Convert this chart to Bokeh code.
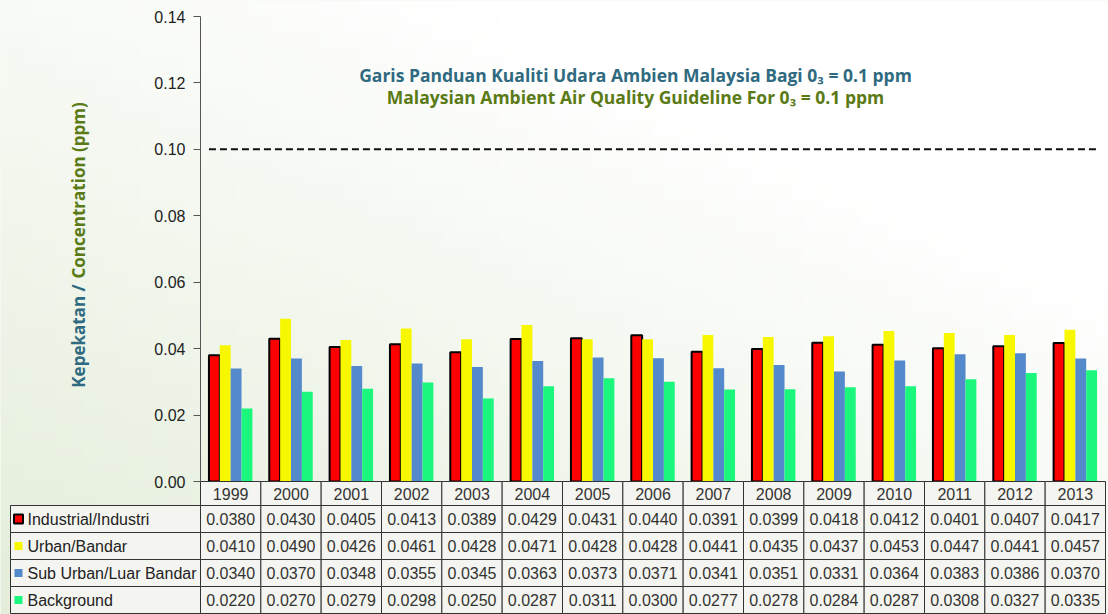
import math
import numpy as np
from bokeh.plotting import figure
from bokeh.models import Range1d, FixedTicker, NumeralTickFormatter, Label, LinearAxis, ColumnDataSource
from bokeh.embed import file_html
from bokeh.resources import INLINE
from bokeh.core.properties import value

# ---------------- data ----------------
years = ["1999", "2000", "2001", "2002", "2003", "2004", "2005", "2006",
         "2007", "2008", "2009", "2010", "2011", "2012", "2013"]
industrial = [0.0380, 0.0430, 0.0405, 0.0413, 0.0389, 0.0429, 0.0431, 0.0440,
              0.0391, 0.0399, 0.0418, 0.0412, 0.0401, 0.0407, 0.0417]
urban = [0.0410, 0.0490, 0.0426, 0.0461, 0.0428, 0.0471, 0.0428, 0.0428,
         0.0441, 0.0435, 0.0437, 0.0453, 0.0447, 0.0441, 0.0457]
suburban = [0.0340, 0.0370, 0.0348, 0.0355, 0.0345, 0.0363, 0.0373, 0.0371,
            0.0341, 0.0351, 0.0331, 0.0364, 0.0383, 0.0386, 0.0370]
background = [0.0220, 0.0270, 0.0279, 0.0298, 0.0250, 0.0287, 0.0311, 0.0300,
              0.0277, 0.0278, 0.0284, 0.0287, 0.0308, 0.0327, 0.0335]
series_names = ["Industrial/Industri", "Urban/Bandar", "Sub Urban/Luar Bandar", "Background"]
series_values = [industrial, urban, suburban, background]
series_colors = ["#FF0000", "#F7F700", "#5489CB", "#1AF77C"]
y_ticks = [0.00, 0.02, 0.04, 0.06, 0.08, 0.10, 0.12, 0.14]
guideline = 0.1
title_ms = "Garis Panduan Kualiti Udara Ambien Malaysia Bagi 0\u2083 = 0.1 ppm"
title_en = "Malaysian Ambient Air Quality Guideline For 0\u2083 = 0.1 ppm"
ylabel_ms = "Kepekatan /"
ylabel_en = "Concentration (ppm)"

# ---------------- layout (pixels) ----------------
W, H = 1108, 614
X0_PX, Y0_PX = 200, 481          # pixel position of (first category start, 0.00)
N = len(years)
PPU = 905 / N                    # px per category
YPU = 465 / 0.14                 # px per ppm


def dx(px):
    return (px - X0_PX) / PPU


def dy(py):
    return (Y0_PX - py) / YPU


TEAL = "#2F6A80"
OLIVE = "#5A7A16"
BAR_W = 0.18

p = figure(width=W, height=H, x_range=Range1d(dx(0), dx(W)), y_range=Range1d(dy(H), dy(0)),
           output_backend="svg", toolbar_location=None, x_axis_location=None, y_axis_location=None,
           min_border_left=0, min_border_right=0, min_border_top=0, min_border_bottom=0,
           background_fill_color="#F2F6EC", border_fill_color="#F2F6EC", outline_line_color=None)

# soft background gradient
gh, gw = 40, 80
gv, gu = np.mgrid[0:gh, 0:gw]
m = np.clip(0.6 * gu / (gw - 1) + 0.75 * gv / (gh - 1), 0, 1)
dark = np.array([0xE4, 0xEE, 0xDA])
img = np.empty((gh, gw), dtype=np.uint32)
view = img.view(dtype=np.uint8).reshape((gh, gw, 4))
for ch in range(3):
    view[:, :, ch] = (dark[ch] * (1 - m) + 255 * m).astype(np.uint8)
view[:, :, 3] = 255
p.image_rgba(image=[img], x=dx(0), y=dy(H), dw=dx(W) - dx(0), dh=dy(0) - dy(H))

# y axis at the start of the categories
ax = LinearAxis(fixed_location=0, bounds=(0, 0.14))
ax.ticker = FixedTicker(ticks=y_ticks)
ax.formatter = NumeralTickFormatter(format="0.00")
ax.major_label_text_font = "Liberation Sans"
ax.major_label_text_font_size = "16px"
ax.major_label_text_color = "#222222"
ax.axis_line_color = "#555555"
ax.major_tick_line_color = "#555555"
ax.major_tick_out = 7
ax.major_tick_in = 0
ax.minor_tick_line_color = None
ax.major_label_standoff = 8
p.add_layout(ax, "left")

# bars
offsets = [-1.5 * BAR_W, -0.5 * BAR_W, 0.5 * BAR_W, 1.5 * BAR_W]
for k, (vals, col) in enumerate(zip(series_values, series_colors)):
    src = ColumnDataSource(dict(x=[i + 0.5 + offsets[k] for i in range(N)], top=vals))
    if k == 0:
        p.vbar(x="x", top="top", width=BAR_W, source=src, fill_color=col,
               line_color="#000000", line_width=2)
    else:
        p.vbar(x="x", top="top", width=BAR_W, source=src, fill_color=col, line_color=None)

# guideline
p.segment(x0=[0.5 - 2 * BAR_W], x1=[N - 0.5 + 2 * BAR_W], y0=[guideline], y1=[guideline],
          line_color="#111111", line_width=2, line_dash="7 4")

# titles
p.add_layout(Label(x=dx(635), y=dy(74), text=title_ms, text_align="center", text_baseline="middle",
                   text_font="Open Sans", text_font_style="bold", text_font_size="17.5px",
                   text_color=TEAL))
p.add_layout(Label(x=dx(635), y=dy(96), text=title_en, text_align="center", text_baseline="middle",
                   text_font="Open Sans", text_font_style="bold", text_font_size="17.5px",
                   text_color=OLIVE))
p.add_layout(Label(x=dx(78), y=dy(284), text=ylabel_ms, angle=math.pi / 2, text_align="right",
                   text_baseline="middle", text_font="Open Sans", text_font_style="bold",
                   text_font_size="17px", text_color=TEAL))
p.add_layout(Label(x=dx(78), y=dy(278), text=ylabel_en, angle=math.pi / 2, text_align="left",
                   text_baseline="middle", text_font="Open Sans", text_font_style="bold",
                   text_font_size="17px", text_color=OLIVE))

# ---------------- data table ----------------
row_px = [481, 505, 532, 559, 586, 613]
row_y = [dy(v) for v in row_px]
label_left = dx(10)
ql, qr, qt, qb = [], [], [], []
for r in range(5):
    for c in range(N):
        ql.append(c); qr.append(c + 1); qt.append(row_y[r]); qb.append(row_y[r + 1])
    if r > 0:
        ql.append(label_left); qr.append(0); qt.append(row_y[r]); qb.append(row_y[r + 1])
p.quad(left=ql, right=qr, top=qt, bottom=qb, fill_color="#F4F5F0",
       line_color="#333333", line_width=1)

font = value("Liberation Sans")
ycen = [(row_y[i] + row_y[i + 1]) / 2 for i in range(5)]
p.text(x=[c + 0.5 for c in range(N)], y=[ycen[0]] * N, text=years, text_font=font,
       text_font_size="16px", text_color="#333333", text_align="center", text_baseline="middle")
tx, ty, tt = [], [], []
for k, vals in enumerate(series_values):
    for c, v in enumerate(vals):
        tx.append(c + 0.5); ty.append(ycen[k + 1]); tt.append(f"{v:.4f}")
p.text(x=tx, y=ty, text=tt, text_font=font, text_font_size="16px", text_color="#333333",
       text_align="center", text_baseline="middle")
p.text(x=[dx(27)] * 4, y=ycen[1:], text=series_names, text_font=font,
       text_font_size="16px", text_color="#222222", text_align="left", text_baseline="middle")
p.rect(x=[dx(18)], y=[ycen[1]], width=9, height=9, width_units="screen", height_units="screen",
       fill_color=series_colors[0], line_color="#000000", line_width=2)
p.rect(x=[dx(18)] * 3, y=ycen[2:], width=8, height=8, width_units="screen", height_units="screen",
       fill_color=series_colors[1:], line_color=None)

open("out.html", "w").write(file_html(p, INLINE))
